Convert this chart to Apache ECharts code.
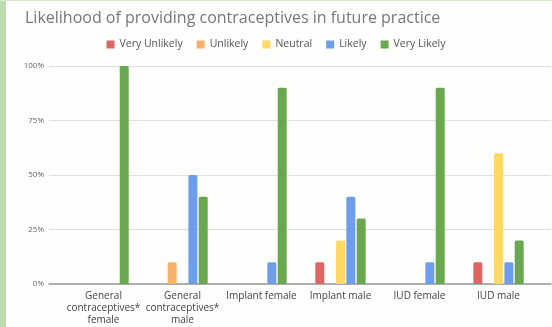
<!DOCTYPE html>
<html><head><meta charset="utf-8">
<script src="https://cdn.jsdelivr.net/npm/echarts@6/dist/echarts.min.js"></script>
<style>html,body{margin:0;padding:0;background:#fff}#c{width:552px;height:327px}</style>
</head><body><div id="c"></div>
<script>
const categories = ["General\ncontraceptives*\nfemale", "General\ncontraceptives*\nmale", "Implant female", "Implant male", "IUD female", "IUD male"];
const seriesNames = ["Very Unlikely", "Unlikely", "Neutral", "Likely", "Very Likely"];
const veryUnlikely = [0, 0, 0, 10, 0, 10];
const unlikely = [0, 10, 0, 0, 0, 0];
const neutral = [0, 0, 0, 20, 0, 60];
const likely = [0, 50, 10, 40, 10, 10];
const veryLikely = [100, 40, 90, 30, 90, 20];
const yTicks = [0, 25, 50, 75, 100];
const colors = ["#e06666", "#f6b26b", "#ffd966", "#6d9eeb", "#6aa84f"];
const values = [veryUnlikely, unlikely, neutral, likely, veryLikely];

const chart = echarts.init(document.getElementById('c'));
const font = "'Open Sans', 'Noto Sans', sans-serif";
chart.setOption({
  backgroundColor: '#fefefd',
  animation: false,
  color: colors,
  graphic: [
    {type: 'rect', left: 0, top: 0, shape: {width: 6, height: 327}, style: {fill: '#bcdcae'}, z: 10},
    {type: 'rect', left: 0, top: 0, shape: {width: 552, height: 1}, style: {fill: '#d5e8cc'}, z: 10}
  ],
  title: {
    text: 'Likelihood of providing contraceptives in future practice',
    left: 20, top: 5,
    textStyle: {fontFamily: font, fontSize: 16, fontWeight: 'normal', color: '#777'}
  },
  legend: {
    data: seriesNames,
    left: 'center', top: 34,
    itemWidth: 8, itemHeight: 8, itemGap: 14,
    icon: 'rect',
    textStyle: {fontFamily: font, fontSize: 10.5, color: '#555'}
  },
  grid: [
    {left: 64, right: 14, top: 66, bottom: 43},
    {left: 49, right: 1, top: 66, bottom: 43}
  ],
  xAxis: [
    {type: 'category', gridIndex: 0, data: categories,
     axisLine: {show: false}, axisTick: {show: false},
     axisLabel: {interval: 0, fontFamily: font, fontSize: 10, color: '#444', lineHeight: 12, margin: 6}},
    {type: 'value', gridIndex: 1, min: 0, max: 1, show: true,
     axisLine: {show: true, onZero: false, lineStyle: {color: '#999', width: 1.5}},
     axisTick: {show: false}, axisLabel: {show: false}, splitLine: {show: false}}
  ],
  yAxis: [
    {type: 'value', gridIndex: 0, min: 0, max: 100, interval: 25, show: false},
    {type: 'value', gridIndex: 1, min: 0, max: 100, interval: 25,
     axisLine: {show: false}, axisTick: {show: false},
     axisLabel: {formatter: v => yTicks.includes(v) ? v + '%' : '', fontFamily: font, fontSize: 8, color: '#666', margin: 5},
     splitLine: {lineStyle: {color: '#e0e0e0', width: 1}}}
  ],
  series: seriesNames.map((n, i) => ({
    name: n, type: 'bar', xAxisIndex: 0, yAxisIndex: 0,
    data: values[i], barWidth: 9, barGap: '15%',
    itemStyle: {color: colors[i], borderRadius: [1.5, 1.5, 0, 0]}
  }))
});
</script></body></html>
